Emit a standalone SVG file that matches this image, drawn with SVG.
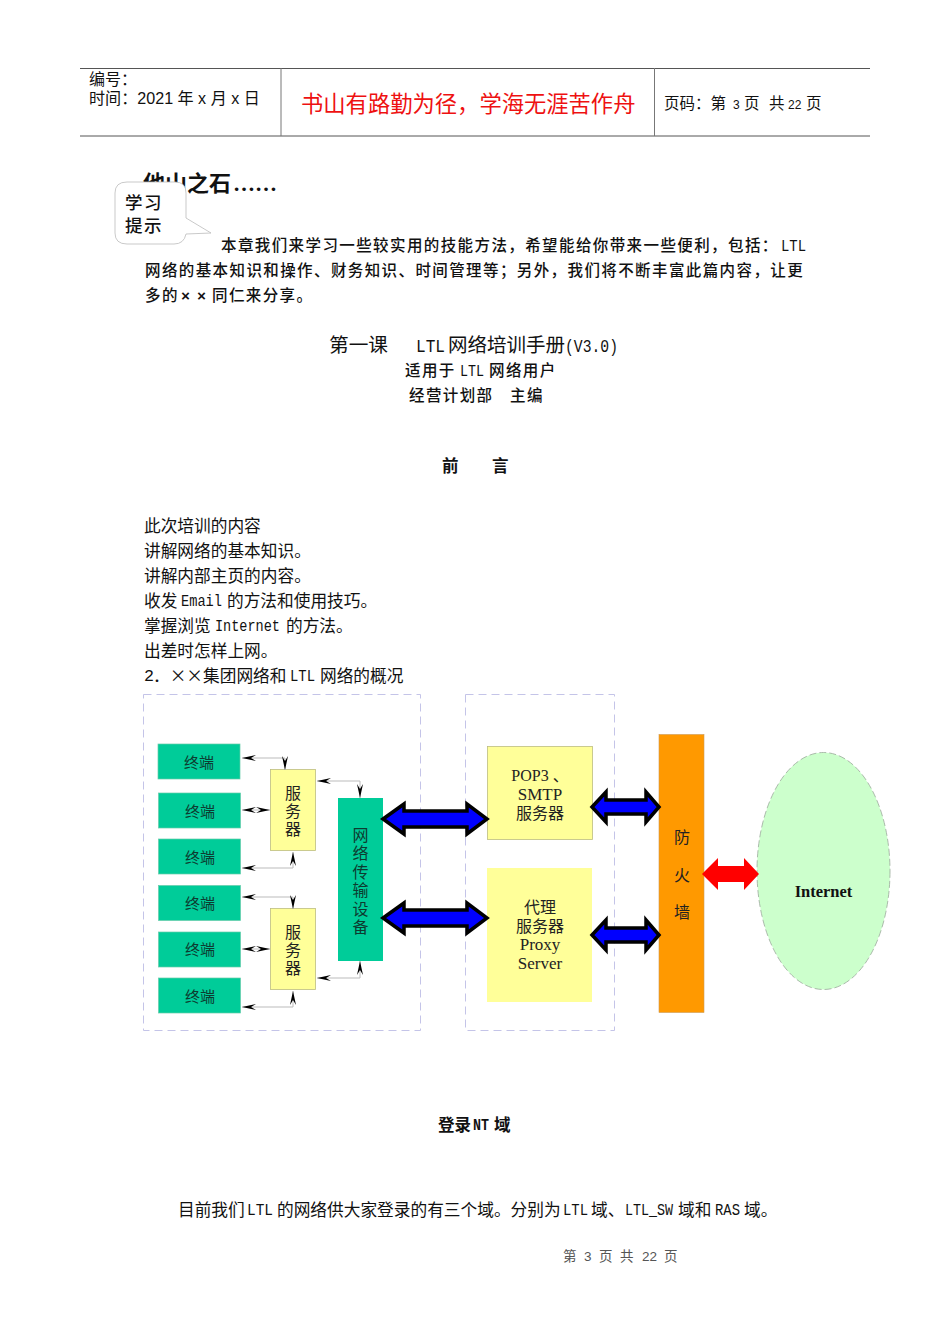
<svg xmlns="http://www.w3.org/2000/svg" width="950" height="1344" viewBox="0 0 950 1344">
<style>
text{font-family:"Liberation Serif","Noto Sans CJK SC",serif;fill:#111}
.s{font-family:"Liberation Sans","Noto Sans CJK SC",sans-serif}
.body{font-size:16.700px;font-family:"Noto Sans CJK SC",sans-serif}
.kai{font-size:15.500px;letter-spacing:1.400px;font-weight:500;font-family:"Noto Sans CJK SC",sans-serif}
.l{font-size:16.500px;font-family:"Liberation Mono",monospace}
.z{font-family:"Noto Sans CJK SC",sans-serif}
.g{fill:#00cc99;stroke:#66ccaa;stroke-width:.7}
.y{fill:#ffff99;stroke:#bdbd80;stroke-width:.8}
.t{font-size:15px;text-anchor:middle;fill:#0d3b30}
.m{font-size:16px;text-anchor:middle;fill:#222}
.c{fill:none;stroke:#bbb;stroke-width:1}
.dash{fill:none;stroke:#c4c4e8;stroke-width:1;stroke-dasharray:8 5}
.ba{fill:#0000ff;stroke:#000;stroke-width:3.500}
.f{fill:#555;font-size:13.500px}
</style>
<defs>
<marker id="a" viewBox="0 0 14 6" refX="14" refY="3" markerWidth="14" markerHeight="6" markerUnits="userSpaceOnUse" orient="auto-start-reverse">
<path d="M14 3L0 0L5 3L0 6Z" fill="#000"/>
</marker>
</defs>
<rect width="950" height="1344" fill="#fff"/>
<g id="header">
<path d="M80 68.500H870M80 136H870" stroke="#555" stroke-width="1" fill="none"/>
<path d="M281 68V136M654.500 68V136" stroke="#777" stroke-width="1" fill="none"/>
<text class="s" x="89" y="85" font-size="16">编号：</text>
<text class="s" x="89" y="104" font-size="16.100">时间：2021 年 x 月 x 日</text>
<text x="301" y="112" font-size="22.300" style="fill:#ee1111;font-family:'Noto Sans CJK SC',sans-serif">书山有路勤为径，学海无涯苦作舟</text>
<g font-size="15.500">
<text class="s" x="664" y="109">页码：第</text><text class="s" x="733" y="109" font-size="12">3</text><text class="s" x="744" y="109">页</text><text class="s" x="769" y="109">共</text><text class="s" x="788" y="109" font-size="12">22</text><text class="s" x="806" y="109">页</text>
</g>
</g>
<g id="intro">
<text x="143" y="191" font-size="22" font-weight="700" class="z">他山之石</text>
<text x="233" y="191" font-size="22" font-weight="700">……</text>
<text class="kai" x="221" y="251">本章我们来学习一些较实用的技能方法，希望能给你带来一些便利，包括：</text>
<text class="l" x="781" y="251" textLength="25" lengthAdjust="spacingAndGlyphs">LTL</text>
<text class="kai" x="145" y="276">网络的基本知识和操作、财务知识、时间管理等；另外，我们将不断丰富此篇内容，让更</text>
<text class="kai" x="145" y="301">多的</text>
<text class="l" x="181" y="301" font-weight="700" style="font-size:15px">×</text>
<text class="l" x="197" y="301" font-weight="700" style="font-size:15px">×</text>
<text class="kai" x="212" y="301">同仁来分享。</text>
</g>
<g id="callout">
<path d="M127 182H175Q186 182 186 193V218L211 233L186 234Q184 244 174 244H127Q115 244 115 233V193Q115 182 127 182Z" fill="#fff" stroke="#bbb" stroke-width=".8"/>
<text class="kai" x="125" y="209" style="font-size:17.500px">学习</text>
<text class="kai" x="125" y="232" style="font-size:17.500px">提示</text>
</g>
<g id="titles">
<text x="329" y="352" font-size="19.700" class="z">第一课</text>
<text class="l" x="416" y="352" style="font-size:19px" textLength="29" lengthAdjust="spacingAndGlyphs">LTL</text>
<text x="448" y="352" font-size="19.500" class="z">网络培训手册</text>
<text class="l" x="565" y="352" style="font-size:19px" textLength="53" lengthAdjust="spacingAndGlyphs">(V3.0)</text>
<text class="kai" x="405" y="376">适用于</text>
<text class="l" x="460" y="376" textLength="24" lengthAdjust="spacingAndGlyphs">LTL</text>
<text class="kai" x="489" y="376">网络用户</text>
<text class="kai" x="409" y="401">经营计划部</text>
<text class="kai" x="510" y="401">主编</text>
<text class="kai" x="442" y="472" style="font-size:16.500px;font-weight:700">前</text>
<text class="kai" x="492" y="472" style="font-size:16.500px;font-weight:700">言</text>
</g>
<g id="body">
<text class="body" x="144" y="532">此次培训的内容</text>
<text class="body" x="144" y="557">讲解网络的基本知识。</text>
<text class="body" x="144" y="582">讲解内部主页的内容。</text>
<text class="body" x="144" y="607">收发</text>
<text class="l" x="181" y="606" textLength="41" lengthAdjust="spacingAndGlyphs">Email</text>
<text class="body" x="227" y="607">的方法和使用技巧。</text>
<text class="body" x="144" y="632">掌握浏览</text>
<text class="l" x="215" y="631" textLength="65" lengthAdjust="spacingAndGlyphs">Internet</text>
<text class="body" x="286" y="632">的方法。</text>
<text class="body" x="144" y="657">出差时怎样上网。</text>
<text class="l" x="144" y="681" textLength="10" lengthAdjust="spacingAndGlyphs">2</text>
<text class="body" x="153" y="682">．××集团网络和</text>
<text class="l" x="290" y="681" textLength="25" lengthAdjust="spacingAndGlyphs">LTL</text>
<text class="body" x="320" y="682">网络的概况</text>
</g>
<g id="zones">
<rect class="dash" x="143.500" y="694.500" width="277" height="336"/>
<rect class="dash" x="465.500" y="694.500" width="149" height="336"/>
</g>
<g id="terminals">
<g id="t1"><rect class="g" x="158" y="744" width="82" height="35"/><text class="t" x="199" y="768">终端</text></g>
<g id="t2"><rect class="g" x="158.500" y="793" width="82" height="35"/><text class="t" x="200" y="817">终端</text></g>
<g id="t3"><rect class="g" x="158.500" y="839" width="82" height="35"/><text class="t" x="200" y="863">终端</text></g>
<g id="t4"><rect class="g" x="158.500" y="885.500" width="82" height="35"/><text class="t" x="200" y="909">终端</text></g>
<g id="t5"><rect class="g" x="158.500" y="932" width="82" height="35"/><text class="t" x="200" y="955">终端</text></g>
<g id="t6"><rect class="g" x="158.500" y="978" width="82" height="35"/><text class="t" x="200" y="1002">终端</text></g>
</g>
<g id="srv1"><rect class="y" x="270.500" y="769.500" width="45" height="81"/><text class="m" x="293" y="799">服</text><text class="m" x="293" y="817">务</text><text class="m" x="293" y="835">器</text></g>
<g id="srv2"><rect class="y" x="270.500" y="908.500" width="45" height="81"/><text class="m" x="293" y="938">服</text><text class="m" x="293" y="956">务</text><text class="m" x="293" y="974">器</text></g>
<g id="net"><rect x="338" y="798" width="45" height="163" fill="#00cc99"/>
<text class="t" x="360.500" y="841" style="font-size:16px">网</text><text class="t" x="360.500" y="859" style="font-size:16px">络</text><text class="t" x="360.500" y="878" style="font-size:16px">传</text><text class="t" x="360.500" y="896" style="font-size:16px">输</text><text class="t" x="360.500" y="915" style="font-size:16px">设</text><text class="t" x="360.500" y="933" style="font-size:16px">备</text></g>
<g id="pop"><rect class="y" x="487.500" y="746.500" width="105" height="93"/><text class="m" x="540" y="781">POP3 、</text><text class="m" x="540" y="800" style="font-size:17px">SMTP</text><text class="m" x="540" y="819">服务器</text></g>
<g id="proxy"><rect x="487" y="868" width="105" height="134" fill="#ffff99"/><text class="m" x="540" y="913">代理</text><text class="m" x="540" y="932">服务器</text><text class="m" x="540" y="950" style="font-size:17px">Proxy</text><text class="m" x="540" y="969" style="font-size:17px">Server</text></g>
<g id="fw"><rect x="659" y="734.500" width="45" height="278" fill="#ff9900" stroke="#cc9955" stroke-width=".6"/><text class="m" x="682" y="843">防</text><text class="m" x="682" y="881">火</text><text class="m" x="682" y="918">墙</text></g>
<g id="inet"><ellipse cx="823.500" cy="871" rx="66.500" ry="118.500" fill="#ccffcc" stroke="#99aa99" stroke-width=".8" stroke-dasharray="7 3"/><text x="823.500" y="897" text-anchor="middle" font-size="16.500" font-weight="700">Internet</text></g>
<g id="connectors">
<g marker-start="url(#a)" marker-end="url(#a)">
<path class="c" d="M242 758H285V770"/>
<path class="c" d="M242 810H270"/>
<path class="c" d="M242 868H293V852"/>
<path class="c" d="M242 897H293V909"/>
<path class="c" d="M242 949H270"/>
<path class="c" d="M242 1007H293V991"/>
<path class="c" d="M317 781H360V798"/>
<path class="c" d="M317 978H360V961"/>
</g>
<path class="ba" d="M383 819L404 804V811H467V804L487 819L467 834V827H404V834Z"/>
<path class="ba" d="M383 918L404 903V910H467V903L487 918L467 933V926H404V933Z"/>
<path class="ba" d="M592 807L606 792V800H646V792L659 807L646 822V814H606V822Z"/>
<path class="ba" d="M592 935L606 920V928H646V920L659 935L646 950V942H606V950Z"/>
<path d="M702 874L718 858V866H744V858L759 874L744 890V882H718V890Z" fill="#ff0000"/>
</g>
<g id="footer">
<text x="438" y="1131" font-size="16.500" font-weight="700" class="z">登录</text>
<text class="l" x="473" y="1130" font-weight="700" textLength="16" lengthAdjust="spacingAndGlyphs">NT</text>
<text x="494" y="1131" font-size="16.500" font-weight="700" class="z">域</text>
<text class="body" x="178" y="1216">目前我们</text>
<text class="l" x="247" y="1215" textLength="26" lengthAdjust="spacingAndGlyphs">LTL</text>
<text class="body" x="277" y="1216">的网络供大家登录的有三个域。分别为</text>
<text class="l" x="563" y="1215" textLength="25" lengthAdjust="spacingAndGlyphs">LTL</text>
<text class="body" x="591" y="1216">域、</text>
<text class="l" x="625" y="1215" textLength="48" lengthAdjust="spacingAndGlyphs">LTL_SW</text>
<text class="body" x="678" y="1216">域和</text>
<text class="l" x="715" y="1215" textLength="25" lengthAdjust="spacingAndGlyphs">RAS</text>
<text class="body" x="744" y="1216">域。</text>
<g>
<text class="s f" x="563" y="1261">第</text><text class="s f" x="584" y="1261">3</text><text class="s f" x="599" y="1261">页</text><text class="s f" x="620" y="1261">共</text><text class="s f" x="642" y="1261">22</text><text class="s f" x="664" y="1261">页</text>
</g>
</g>
</svg>
